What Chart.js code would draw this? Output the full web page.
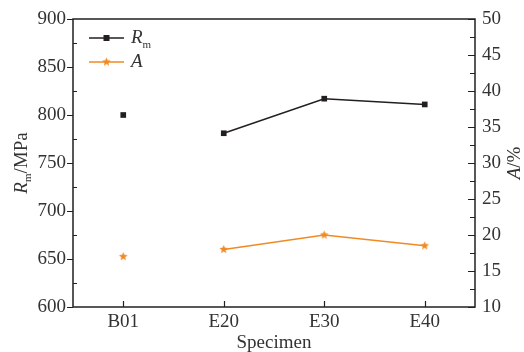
<!DOCTYPE html>
<html>
<head>
<meta charset="utf-8">
<script src="https://cdn.jsdelivr.net/npm/chart.js@4"></script>
<style>
  html, body { margin: 0; padding: 0; background: #fff; }
  #wrap { width: 524px; height: 352px; }
</style>
</head>
<body>
<div id="wrap"><canvas id="myChart"></canvas></div>
<script>
var categories = ['B01', 'E20', 'E30', 'E40'];
var rmValues = [800, 781, 817, 811];
var aValues = [17, 18, 20, 18.5];
var rmRange = [600, 900];
var aRange = [10, 50];

var black = '#231f20';
var orange = '#f08a24';
var textColor = '#333';
var serif = '"Liberation Serif", "DejaVu Serif", serif';
var fsize = 19;

// filled five-point star used as the marker for A
function makeStar(color, r) {
  var c = document.createElement('canvas');
  var s = Math.ceil(r * 2 + 2);
  c.width = s; c.height = s;
  var g = c.getContext('2d');
  g.fillStyle = color;
  g.beginPath();
  for (var i = 0; i < 10; i++) {
    var rad = i % 2 ? r * 0.45 : r;
    var ang = -Math.PI / 2 + i * Math.PI / 5;
    g.lineTo(s / 2 + rad * Math.cos(ang), s / 2 + rad * Math.sin(ang));
  }
  g.closePath();
  g.fill();
  return c;
}
var starImg = makeStar(orange, 4.5);

// ticks: left major out / minor in, right and bottom in
var tickPlugin = {
  id: 'ticks',
  afterDraw: function(chart) {
    var ctx = chart.ctx, a = chart.chartArea;
    var y = chart.scales.y, y1 = chart.scales.y1, x = chart.scales.x;
    ctx.save();
    ctx.strokeStyle = black;
    ctx.lineWidth = 1.5;
    ctx.strokeRect(a.left, a.top, a.right - a.left, a.bottom - a.top);
    ctx.lineWidth = 1.2;
    ctx.beginPath();
    for (var v = rmRange[0]; v <= rmRange[1]; v += 25) {
      var py = Math.round(y.getPixelForValue(v)) + 0.5;
      if (v % 50 === 0) { ctx.moveTo(a.left - 6, py); ctx.lineTo(a.left, py); }
      else { ctx.moveTo(a.left, py); ctx.lineTo(a.left + 4, py); }
    }
    for (var w = aRange[0]; w <= aRange[1]; w += 2.5) {
      var qy = Math.round(y1.getPixelForValue(w)) + 0.5;
      var len = (w % 5 === 0) ? 7 : 5;
      ctx.moveTo(a.right - len, qy); ctx.lineTo(a.right, qy);
    }
    for (var i = 0; i < categories.length; i++) {
      var px = Math.round(x.getPixelForValue(i)) + 0.5;
      ctx.moveTo(px, a.bottom); ctx.lineTo(px, a.bottom - 6);
    }
    ctx.stroke();
    ctx.restore();
  }
};

// axis titles and legend with italic symbols and subscripts
var textPlugin = {
  id: 'texts',
  afterDraw: function(chart) {
    var ctx = chart.ctx, a = chart.chartArea;
    ctx.save();
    ctx.fillStyle = textColor;
    ctx.textBaseline = 'middle';
    var cy = (a.top + a.bottom) / 2;

    // left title
    ctx.save();
    ctx.translate(22, cy);
    ctx.rotate(-Math.PI / 2);
    var fI = 'italic ' + fsize + 'px ' + serif, fN = fsize + 'px ' + serif, fS = '11px ' + serif;
    ctx.font = fI; var w1 = ctx.measureText('R').width;
    ctx.font = fS; var w2 = ctx.measureText('m').width;
    ctx.font = fN; var w3 = ctx.measureText('/MPa').width;
    var sx = -(w1 + w2 + w3) / 2;
    ctx.textAlign = 'left';
    ctx.font = fI; ctx.fillText('R', sx, 0);
    ctx.font = fS; ctx.fillText('m', sx + w1, 6);
    ctx.font = fN; ctx.fillText('/MPa', sx + w1 + w2, 0);
    ctx.restore();

    // right title
    ctx.save();
    ctx.translate(515, cy);
    ctx.rotate(-Math.PI / 2);
    ctx.font = fI; var v1 = ctx.measureText('A').width;
    ctx.font = fN; var v2 = ctx.measureText('/%').width;
    var tx = -(v1 + v2) / 2;
    ctx.textAlign = 'left';
    ctx.font = fI; ctx.fillText('A', tx, 0);
    ctx.font = fN; ctx.fillText('/%', tx + v1, 0);
    ctx.restore();

    // bottom title
    ctx.font = fN;
    ctx.textAlign = 'center';
    ctx.fillText('Specimen', (a.left + a.right) / 2, 343);

    // legend
    ctx.lineWidth = 1.5;
    ctx.strokeStyle = black;
    ctx.beginPath(); ctx.moveTo(a.left + 16, a.top + 19); ctx.lineTo(a.left + 51, a.top + 19); ctx.stroke();
    ctx.fillStyle = black;
    ctx.fillRect(a.left + 30.5, a.top + 16, 6, 6);
    ctx.strokeStyle = orange;
    ctx.beginPath(); ctx.moveTo(a.left + 16, a.top + 43); ctx.lineTo(a.left + 51, a.top + 43); ctx.stroke();
    ctx.drawImage(starImg, a.left + 33.5 - starImg.width / 2, a.top + 43 - starImg.height / 2);

    ctx.fillStyle = textColor;
    ctx.textAlign = 'left';
    ctx.font = fI; ctx.fillText('R', a.left + 58, a.top + 19);
    var rw = ctx.measureText('R').width;
    ctx.font = fS; ctx.fillText('m', a.left + 58 + rw, a.top + 26);
    ctx.font = fI; ctx.fillText('A', a.left + 58, a.top + 43);
    ctx.restore();
  }
};

var ctx = document.getElementById('myChart');
var myChart = new Chart(ctx, {
  type: 'line',
  data: {
    labels: categories,
    datasets: [{
      label: 'Rm',
      data: rmValues,
      yAxisID: 'y',
      borderColor: black,
      backgroundColor: black,
      borderWidth: 1.5,
      pointStyle: 'rect',
      pointRadius: 4,
      pointBorderWidth: 0,
      segment: {
        borderColor: function(c) { return c.p0DataIndex === 0 ? 'rgba(0,0,0,0)' : black; }
      }
    }, {
      label: 'A',
      data: aValues,
      yAxisID: 'y1',
      borderColor: orange,
      backgroundColor: orange,
      borderWidth: 1.5,
      pointStyle: starImg,
      segment: {
        borderColor: function(c) { return c.p0DataIndex === 0 ? 'rgba(0,0,0,0)' : orange; }
      }
    }]
  },
  options: {
    responsive: true,
    maintainAspectRatio: false,
    animation: false,
    layout: { padding: { top: 19, left: 0, right: 0, bottom: 0 } },
    plugins: { legend: { display: false }, tooltip: { enabled: false } },
    scales: {
      x: {
        offset: true,
        grid: { display: false, drawTicks: false },
        border: { display: false },
        ticks: { color: textColor, font: { family: serif, size: fsize }, padding: 4 },
        afterFit: function(s) { s.height = 45; }
      },
      y: {
        position: 'left',
        min: rmRange[0], max: rmRange[1],
        grid: { display: false, drawTicks: false },
        border: { display: false },
        ticks: { stepSize: 50, color: textColor, font: { family: serif, size: fsize }, padding: 7 },
        afterFit: function(s) { s.width = 73; }
      },
      y1: {
        position: 'right',
        min: aRange[0], max: aRange[1],
        grid: { display: false, drawTicks: false },
        border: { display: false },
        ticks: { stepSize: 5, color: textColor, font: { family: serif, size: fsize }, padding: 7 },
        afterFit: function(s) { s.width = 49; }
      }
    }
  },
  plugins: [tickPlugin, textPlugin]
});
</script>
</body>
</html>
